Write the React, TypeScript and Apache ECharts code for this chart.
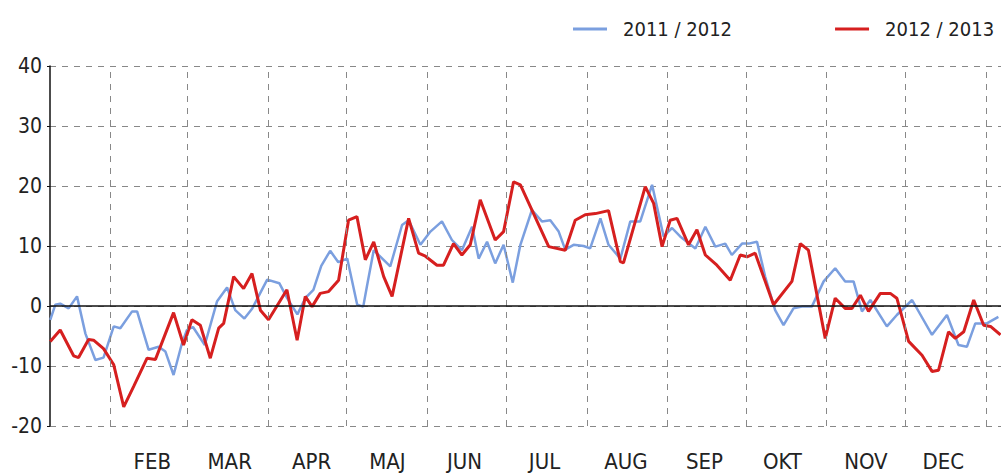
import React, { useEffect, useRef } from "react";
import * as echarts from "echarts";

// x = day of year (0 = 1 January), y = temperature (°C)
const blueDays = [8.1, 10.0, 11.9, 15.1, 18.3, 21.5, 25.3, 28.4, 32.3, 34.8,
  39.3, 41.2, 45.6, 49.4, 52.0, 55.1, 58.3, 60.2, 62.5, 67.0,
  71.7, 75.5, 78.6, 82.1, 85.1, 90.8, 95.4, 98.4, 102.3, 105.3,
  108.4, 111.4, 114.8, 117.9, 121.3, 125.1, 127.4, 128.9, 131.4, 137.7,
  142.2, 144.7, 149.2, 153.0, 157.4, 161.2, 165.0, 168.9, 171.4, 174.6,
  177.7, 180.9, 184.4, 187.3, 191.7, 195.5, 198.7, 201.9, 204.4, 207.6,
  211.4, 213.9, 217.8, 220.9, 225.4, 229.2, 233.0, 237.5, 241.9, 245.1,
  248.2, 254.0, 257.8, 261.6, 265.4, 267.9, 271.8, 274.3, 277.5, 280.6,
  284.4, 287.6, 291.4, 294.6, 298.4, 302.9, 307.3, 311.1, 314.3, 317.5,
  320.7, 327.0, 330.8, 336.6, 344.2, 349.9, 354.3, 357.5, 360.7, 365.1,
  369.5];
const blueVals = [-2.3, 0.2, 0.4, -0.4, 1.6, -4.6, -9.0, -8.6, -3.4, -3.7,
  -0.9, -0.9, -7.3, -6.8, -7.6, -11.5, -6.2, -4.0, -3.5, -6.5,
  0.8, 3.1, -0.7, -2.1, -0.4, 4.4, 3.8, 1.3, -1.4, 1.3,
  2.7, 6.7, 9.2, 7.3, 7.9, 0.2, -0.1, 3.5, 9.3, 6.6,
  13.5, 14.3, 10.2, 12.4, 14.1, 11.0, 9.3, 13.2, 7.9, 10.7,
  7.1, 10.2, 3.9, 10.2, 16.0, 14.1, 14.3, 12.4, 9.4, 10.2,
  10.0, 9.6, 14.6, 10.2, 7.9, 14.1, 14.1, 20.2, 11.6, 13.0,
  11.6, 9.6, 13.2, 9.9, 10.4, 8.5, 10.4, 10.4, 10.7, 4.9,
  -0.7, -3.2, -0.4, -0.1, -0.1, 4.1, 6.3, 4.1, 4.1, -0.9,
  1.0, -3.4, -1.5, 1.0, -4.8, -1.5, -6.5, -6.8, -2.9, -2.9,
  -1.8];

const redDays = [8.1, 11.9, 17.0, 18.9, 22.7, 24.6, 28.4, 32.3, 36.1, 39.9,
  45.0, 48.2, 55.1, 58.9, 62.1, 65.3, 69.1, 72.3, 74.2, 78.0,
  81.8, 85.0, 88.2, 91.3, 98.3, 102.2, 105.3, 107.9, 111.0, 114.2,
  118.0, 121.8, 125.0, 128.2, 131.4, 135.2, 138.4, 144.7, 148.5, 151.1,
  155.5, 158.0, 161.8, 165.0, 168.2, 172.0, 177.7, 180.9, 184.7, 187.3,
  198.1, 204.4, 208.2, 212.0, 215.9, 220.9, 225.4, 226.6, 234.9, 238.1,
  241.3, 244.4, 247.0, 251.4, 254.6, 257.8, 262.2, 267.3, 271.1, 273.7,
  276.8, 283.8, 290.8, 294.0, 297.1, 303.5, 307.3, 311.1, 313.7, 316.9,
  320.0, 324.5, 328.3, 330.8, 335.3, 340.4, 344.2, 346.7, 350.5, 353.1,
  356.3, 360.1, 363.9, 366.5, 370.3];
const redVals = [-5.9, -4.0, -8.3, -8.6, -5.6, -5.7, -7.1, -9.8, -16.8, -13.4,
  -8.7, -8.9, -1.1, -6.5, -2.3, -3.2, -8.7, -3.7, -2.9, 4.9,
  2.9, 5.4, -0.7, -2.3, 2.7, -5.7, 1.6, -0.1, 2.1, 2.4,
  4.3, 14.3, 14.9, 7.7, 10.7, 4.9, 1.6, 14.6, 8.8, 8.3,
  6.8, 6.8, 10.4, 8.5, 10.2, 17.7, 11, 12.4, 20.7, 20.2,
  9.9, 9.3, 14.3, 15.2, 15.4, 15.9, 7.4, 7.2, 19.9, 17.1,
  9.9, 14.3, 14.6, 10.2, 12.7, 8.5, 6.8, 4.3, 8.5, 8.2,
  8.8, 0.2, 4.1, 10.4, 9.3, -5.4, 1.3, -0.4, -0.4, 1.8,
  -0.9, 2.1, 2.1, 1.3, -5.9, -8.2, -10.9, -10.7, -4.3, -5.4,
  -4.3, 1.0, -3.2, -3.4, -4.8];

// month boundaries and label positions (day of year)
const monthStarts = [31, 60.3, 91.2, 120.9, 151.8, 181.9, 212.8, 243.3, 273.4, 304, 334, 365];
const monthMids = [47, 76.5, 107.7, 136.6, 166, 196.5, 227.5, 257.5, 287.2, 319, 348.5];
const monthNames = ["FEB", "MAR", "APR", "MAJ", "JUN", "JUL", "AUG", "SEP", "OKT", "NOV", "DEC"];
const seriesNames = ["2011 / 2012", "2012 / 2013"];
const yTicks = { min: -20, max: 40, interval: 10 };

const FONT = "'DejaVu Sans Condensed', 'DejaVu Sans', sans-serif";

export default function App() {
  const ref = useRef<HTMLDivElement>(null);
  useEffect(() => {
    if (!ref.current) return;
    const chart = echarts.init(ref.current, undefined, { renderer: "svg" });
    const zip = (xs: number[], ys: number[]) => xs.map((x, i) => [x, ys[i]]);
    chart.setOption({
      animation: false,
      backgroundColor: "#ffffff",
      textStyle: { fontFamily: FONT, color: "#222" },
      grid: { left: 50, top: 66, right: 0, bottom: 48, containLabel: false },
      legend: {
        data: seriesNames,
        orient: "horizontal",
        left: 573,
        top: 19,
        width: 440,
        padding: 0,
        icon: "rect",
        itemWidth: 34,
        itemHeight: 3,
        itemGap: 103,
        textStyle: { fontFamily: FONT, fontSize: 20, color: "#222", padding: [0, 0, 0, 11] },
      },
      xAxis: {
        type: "value",
        min: 8,
        max: 370.5,
        axisLine: { show: false },
        axisTick: { show: false },
        splitLine: { show: false },
        axisLabel: {
          customValues: monthMids,
          formatter: (v: number) => {
            const i = monthMids.indexOf(v);
            return i >= 0 ? monthNames[i] : "";
          },
          fontFamily: FONT,
          fontSize: 22,
          color: "#222",
          margin: 24,
        },
      },
      yAxis: {
        type: "value",
        min: yTicks.min,
        max: yTicks.max,
        interval: yTicks.interval,
        axisLine: { show: true, lineStyle: { color: "#111", width: 1.5 } },
        axisTick: { show: true, length: 3, lineStyle: { color: "#111" } },
        axisLabel: { fontFamily: FONT, fontSize: 21, color: "#222", margin: 8 },
        splitLine: { show: true, lineStyle: { color: "#888", type: [6, 6], width: 1 } },
      },
      series: [
        {
          type: "line",
          name: "grid",
          data: [],
          silent: true,
          z: 1,
          markLine: {
            silent: true,
            symbol: ["none", "none"],
            label: { show: false },
            animation: false,
            data: [
              ...monthStarts.map((d) => ({
                xAxis: d,
                lineStyle: { color: "#888", type: [6, 6], width: 1 },
              })),
              { yAxis: 0, lineStyle: { color: "#111", type: "solid", width: 1.5 } },
            ],
          },
        },
        {
          type: "line",
          name: seriesNames[0],
          data: zip(blueDays, blueVals),
          showSymbol: false,
          symbol: "none",
          lineStyle: { color: "#7b9fdf", width: 2.5 },
          itemStyle: { color: "#7b9fdf" },
          z: 3,
        },
        {
          type: "line",
          name: seriesNames[1],
          data: zip(redDays, redVals),
          showSymbol: false,
          symbol: "none",
          lineStyle: { color: "#d61f1f", width: 3 },
          itemStyle: { color: "#d61f1f" },
          z: 4,
        },
      ],
    });
    return () => chart.dispose();
  }, []);
  return (
    <div
      ref={ref}
      style={{ position: "fixed", left: 0, top: 0, width: 1001, height: 474, background: "#fff" }}
    />
  );
}
